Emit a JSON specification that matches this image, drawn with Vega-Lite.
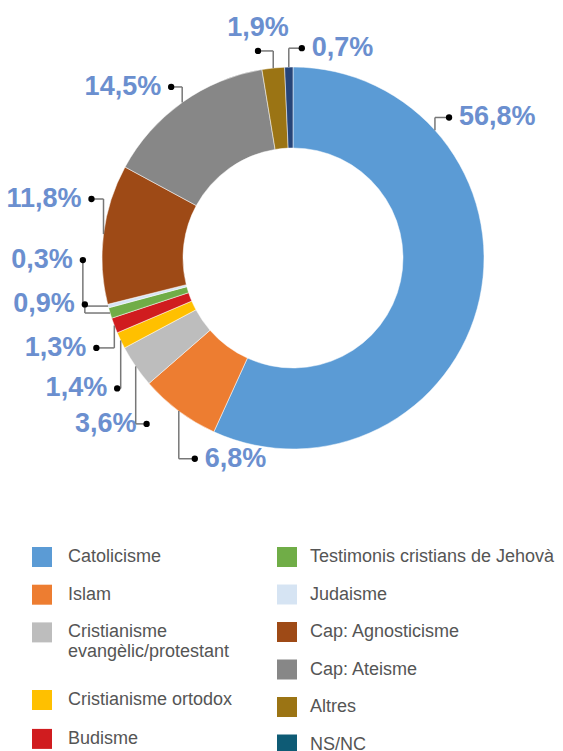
{
  "$schema": "https://vega.github.io/schema/vega-lite/v6.json",
  "width": 563,
  "height": 751,
  "padding": 0,
  "autosize": {"type": "none"},
  "background": "white",
  "config": {"view": {"stroke": null}},
  "data": {
    "values": [
      {"religion": "Catolicisme", "pct": 56.8},
      {"religion": "Islam", "pct": 6.8},
      {"religion": "Cristianisme evangèlic/protestant", "pct": 3.6},
      {"religion": "Cristianisme ortodox", "pct": 1.4},
      {"religion": "Budisme", "pct": 1.3},
      {"religion": "Testimonis cristians de Jehovà", "pct": 0.9},
      {"religion": "Judaisme", "pct": 0.3},
      {"religion": "Cap: Agnosticisme", "pct": 11.8},
      {"religion": "Cap: Ateisme", "pct": 14.5},
      {"religion": "Altres", "pct": 1.9},
      {"religion": "NS/NC", "pct": 0.7}
    ]
  },
  "transform": [
    {"window": [{"op": "row_number", "as": "rn"}, {"op": "sum", "field": "pct", "as": "cum"}], "frame": [null, 0]},
    {"joinaggregate": [{"op": "sum", "field": "pct", "as": "total"}]},
    {"calculate": "datum.religion", "as": "grup"},
    {"calculate": "datum.religion", "as": "grup3"},
    {"calculate": "datum.rn - 1", "as": "idx"},
    {"calculate": "(datum.cum - datum.pct) / datum.total * 360", "as": "a0"},
    {"calculate": "datum.cum / datum.total * 360", "as": "a1"},
    {"calculate": "datum.a0 + min((datum.a1 - datum.a0) / 2, 48)", "as": "anchor"},
    {"calculate": "datum.anchor - datum.idx * 12", "as": "v"},
    {"window": [{"op": "max", "field": "v", "as": "vmax"}], "frame": [null, 0], "sort": [{"field": "idx"}]},
    {"window": [{"op": "min", "field": "v", "as": "vmin"}], "frame": [0, null], "sort": [{"field": "idx"}]},
    {"calculate": "datum.idx * 12 + (datum.vmax + datum.vmin) / 2", "as": "la"},
    {"calculate": "210 + 15 * max(0, -cos(datum.la * PI / 180))", "as": "rd"},
    {"calculate": "sin(datum.anchor * PI / 180) * 191", "as": "p0x"},
    {"calculate": "cos(datum.anchor * PI / 180) * 191", "as": "p0y"},
    {"calculate": "sin(datum.la * PI / 180) * datum.rd", "as": "dx"},
    {"calculate": "cos(datum.la * PI / 180) * datum.rd", "as": "dy"},
    {"calculate": "sqrt(datum.p0x * datum.p0x + datum.dy * datum.dy) >= 192", "as": "vfirst"},
    {"calculate": "datum.vfirst ? datum.p0x : datum.dx", "as": "ex"},
    {"calculate": "datum.vfirst ? datum.dy : datum.p0y", "as": "ey"},
    {"calculate": "(sin(datum.la * PI / 180) >= 0 || cos(datum.la * PI / 180) < -0.85) ? 'r' : (cos(datum.la * PI / 180) > 0.95 ? 'a' : 'l')", "as": "side"},
    {"calculate": "datum.side == 'r' ? datum.dx + 10 : (datum.side == 'l' ? datum.dx - 10 : datum.dx)", "as": "tx"},
    {"calculate": "datum.side == 'a' ? datum.dy + 23 : datum.dy", "as": "ty"},
    {"calculate": "replace(format(datum.pct, '.1f'), '.', ',') + '%'", "as": "lbl"}
  ],
  "layer": [
    {
      "mark": {"type": "arc", "outerRadius": 191, "innerRadius": 110, "stroke": "white", "strokeWidth": 0.5},
      "encoding": {
        "x": {"datum": 0, "type": "quantitative", "scale": {"domain": [-293, 270], "nice": false, "zero": false}, "axis": null},
        "y": {"datum": 0, "type": "quantitative", "scale": {"domain": [-493, 258], "nice": false, "zero": false}, "axis": null},
        "theta": {"field": "pct", "type": "quantitative", "stack": true},
        "order": {"field": "idx", "type": "quantitative"},
        "fill": {
          "field": "religion",
          "type": "nominal",
          "scale": {
            "domain": ["Catolicisme", "Islam", "Cristianisme evangèlic/protestant", "Cristianisme ortodox", "Budisme", "Testimonis cristians de Jehovà", "Judaisme", "Cap: Agnosticisme", "Cap: Ateisme", "Altres", "NS/NC"],
            "range": ["#5b9bd5", "#ed7d31", "#bdbdbd", "#ffc000", "#d01c1f", "#70ad47", "#d6e4f3", "#9e4a16", "#878787", "#9b7414", "#264478"]
          },
          "legend": {
            "orient": "none", "legendX": 32, "legendY": 547, "title": null,
            "values": ["Catolicisme", "Islam", "Cristianisme evangèlic/protestant"],
            "symbolType": "square", "symbolSize": 400, "symbolStrokeWidth": 0, "symbolOpacity": 1,
            "labelFont": "Liberation Sans", "labelFontSize": 18, "labelColor": "#555555", "labelOffset": 16,
            "rowPadding": 17.7, "padding": 0, "labelLimit": 400,
            "labelExpr": "datum.label == 'Cristianisme evangèlic/protestant' ? ['Cristianisme', 'evangèlic/protestant'] : datum.label"
          }
        }
      }
    },
    {
      "mark": {"type": "arc", "outerRadius": 191, "innerRadius": 110, "opacity": 0},
      "encoding": {
        "x": {"datum": 0, "type": "quantitative", "scale": {"domain": [-293, 270], "nice": false, "zero": false}, "axis": null},
        "y": {"datum": 0, "type": "quantitative", "scale": {"domain": [-493, 258], "nice": false, "zero": false}, "axis": null},
        "theta": {"field": "pct", "type": "quantitative", "stack": true},
        "order": {"field": "idx", "type": "quantitative"},
        "color": {
          "field": "grup",
          "type": "nominal",
          "scale": {
            "domain": ["Testimonis cristians de Jehovà", "Judaisme", "Cap: Agnosticisme", "Cap: Ateisme", "Altres", "NS/NC", "Catolicisme", "Islam", "Cristianisme evangèlic/protestant", "Cristianisme ortodox", "Budisme"],
            "range": ["#70ad47", "#d6e4f3", "#9e4a16", "#878787", "#9b7414", "#0e5b75", "#5b9bd5", "#ed7d31", "#bdbdbd", "#ffc000", "#d01c1f"]
          },
          "legend": {
            "orient": "none", "legendX": 277, "legendY": 547, "title": null,
            "values": ["Testimonis cristians de Jehovà", "Judaisme", "Cap: Agnosticisme", "Cap: Ateisme", "Altres", "NS/NC"],
            "symbolType": "square", "symbolSize": 400, "symbolStrokeWidth": 0, "symbolOpacity": 1,
            "labelFont": "Liberation Sans", "labelFontSize": 18, "labelColor": "#555555", "labelOffset": 13,
            "rowPadding": 17.5, "padding": 0, "labelLimit": 400
          }
        }
      }
    },
    {
      "mark": {"type": "arc", "outerRadius": 191, "innerRadius": 110, "opacity": 0, "filled": false},
      "encoding": {
        "x": {"datum": 0, "type": "quantitative", "scale": {"domain": [-293, 270], "nice": false, "zero": false}, "axis": null},
        "y": {"datum": 0, "type": "quantitative", "scale": {"domain": [-493, 258], "nice": false, "zero": false}, "axis": null},
        "theta": {"field": "pct", "type": "quantitative", "stack": true},
        "order": {"field": "idx", "type": "quantitative"},
        "stroke": {
          "field": "grup3",
          "type": "nominal",
          "scale": {
            "domain": ["Cristianisme ortodox", "Budisme", "Catolicisme", "Islam", "Cristianisme evangèlic/protestant", "Testimonis cristians de Jehovà", "Judaisme", "Cap: Agnosticisme", "Cap: Ateisme", "Altres", "NS/NC"],
            "range": ["#ffc000", "#d01c1f", "#5b9bd5", "#ed7d31", "#bdbdbd", "#70ad47", "#d6e4f3", "#9e4a16", "#878787", "#9b7414", "#264478"]
          },
          "legend": {
            "orient": "none", "legendX": 32, "legendY": 690, "title": null,
            "values": ["Cristianisme ortodox", "Budisme"],
            "symbolType": "square", "symbolSize": 100, "symbolStrokeWidth": 10, "symbolOpacity": 1,
            "symbolFillColor": "transparent",
            "labelFont": "Liberation Sans", "labelFontSize": 18, "labelColor": "#555555", "labelOffset": 16,
            "rowPadding": -11.1, "padding": 0, "labelLimit": 400
          }
        }
      }
    },
    {
      "mark": {"type": "rule", "color": "#777777", "strokeWidth": 1.5},
      "encoding": {
        "x": {"field": "p0x", "type": "quantitative", "scale": {"domain": [-293, 270], "nice": false, "zero": false}, "axis": null},
        "y": {"field": "p0y", "type": "quantitative", "scale": {"domain": [-493, 258], "nice": false, "zero": false}, "axis": null},
        "x2": {"field": "ex"},
        "y2": {"field": "ey"}
      }
    },
    {
      "mark": {"type": "rule", "color": "#777777", "strokeWidth": 1.5},
      "encoding": {
        "x": {"field": "ex", "type": "quantitative", "scale": {"domain": [-293, 270], "nice": false, "zero": false}, "axis": null},
        "y": {"field": "ey", "type": "quantitative", "scale": {"domain": [-493, 258], "nice": false, "zero": false}, "axis": null},
        "x2": {"field": "dx"},
        "y2": {"field": "dy"}
      }
    },
    {
      "mark": {"type": "point", "filled": true, "color": "black", "size": 40, "opacity": 1},
      "encoding": {
        "x": {"field": "dx", "type": "quantitative", "scale": {"domain": [-293, 270], "nice": false, "zero": false}, "axis": null},
        "y": {"field": "dy", "type": "quantitative", "scale": {"domain": [-493, 258], "nice": false, "zero": false}, "axis": null}
      }
    },
    {
      "transform": [{"filter": "datum.side == 'r'"}],
      "mark": {"type": "text", "align": "left", "baseline": "middle", "font": "Liberation Sans", "fontWeight": "bold", "fontSize": 27, "color": "#6b8fcf"},
      "encoding": {
        "x": {"field": "tx", "type": "quantitative", "scale": {"domain": [-293, 270], "nice": false, "zero": false}, "axis": null},
        "y": {"field": "ty", "type": "quantitative", "scale": {"domain": [-493, 258], "nice": false, "zero": false}, "axis": null},
        "text": {"field": "lbl"}
      }
    },
    {
      "transform": [{"filter": "datum.side == 'l'"}],
      "mark": {"type": "text", "align": "right", "baseline": "middle", "font": "Liberation Sans", "fontWeight": "bold", "fontSize": 27, "color": "#6b8fcf"},
      "encoding": {
        "x": {"field": "tx", "type": "quantitative", "scale": {"domain": [-293, 270], "nice": false, "zero": false}, "axis": null},
        "y": {"field": "ty", "type": "quantitative", "scale": {"domain": [-493, 258], "nice": false, "zero": false}, "axis": null},
        "text": {"field": "lbl"}
      }
    },
    {
      "transform": [{"filter": "datum.side == 'a'"}],
      "mark": {"type": "text", "align": "center", "baseline": "middle", "font": "Liberation Sans", "fontWeight": "bold", "fontSize": 27, "color": "#6b8fcf"},
      "encoding": {
        "x": {"field": "tx", "type": "quantitative", "scale": {"domain": [-293, 270], "nice": false, "zero": false}, "axis": null},
        "y": {"field": "ty", "type": "quantitative", "scale": {"domain": [-493, 258], "nice": false, "zero": false}, "axis": null},
        "text": {"field": "lbl"}
      }
    }
  ]
}
